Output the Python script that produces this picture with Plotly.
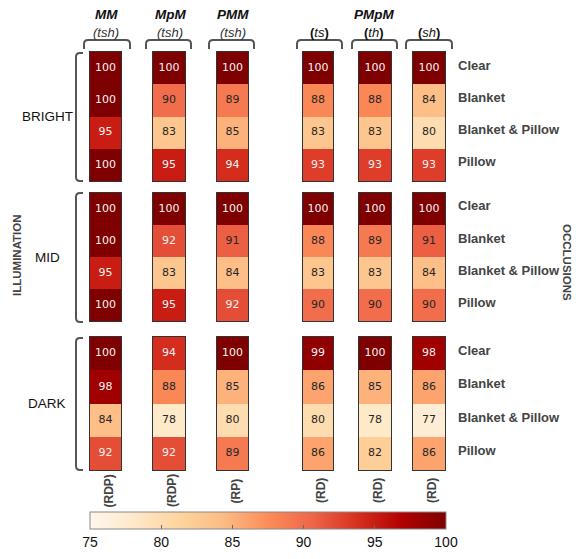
import plotly.graph_objects as go

W, H = 584, 559          # browser window
OX, OY = 8, 8            # default page body margin
FW, FH = W - 2 * OX, H - 2 * OY

# ---------------- data ----------------
methods = ["MM", "MpM", "PMM", "PMpM_ts", "PMpM_th", "PMpM_sh"]
illuminations = ["BRIGHT", "MID", "DARK"]
occlusions = ["Clear", "Blanket", "Blanket & Pillow", "Pillow"]
bottom_labels = ["(RDP)", "(RDP)", "(RP)", "(RD)", "(RD)", "(RD)"]

bright = {
    "MM": [100, 100, 95, 100],
    "MpM": [100, 90, 83, 95],
    "PMM": [100, 89, 85, 94],
    "PMpM_ts": [100, 88, 83, 93],
    "PMpM_th": [100, 88, 83, 93],
    "PMpM_sh": [100, 84, 80, 93],
}
mid = {
    "MM": [100, 100, 95, 100],
    "MpM": [100, 92, 83, 95],
    "PMM": [100, 91, 84, 92],
    "PMpM_ts": [100, 88, 83, 90],
    "PMpM_th": [100, 89, 83, 90],
    "PMpM_sh": [100, 91, 84, 90],
}
dark = {
    "MM": [100, 98, 84, 92],
    "MpM": [94, 88, 78, 92],
    "PMM": [100, 85, 80, 89],
    "PMpM_ts": [99, 86, 80, 86],
    "PMpM_th": [100, 85, 78, 82],
    "PMpM_sh": [98, 86, 77, 86],
}
blocks = [bright, mid, dark]
cbar_ticks = [75, 80, 85, 90, 95, 100]

# ---------------- layout geometry (window pixels) ----------------
col_px = [(90, 121), (153, 185), (217, 248), (303, 333), (359, 391), (413, 445)]
row_px = [(52, 181), (193, 321), (337, 470)]


def fx(x):
    return (x - OX) / FW


def fy(y):
    return 1 - (y - OY) / FH


fig = go.Figure()
layout_axes = {}
k = 0
for bi, block in enumerate(blocks):
    for ci, m in enumerate(methods):
        k += 1
        vals = block[m]
        xa = "x" if k == 1 else f"x{k}"
        ya = "y" if k == 1 else f"y{k}"
        fig.add_trace(go.Heatmap(
            z=[[v] for v in vals], x=[0], y=list(range(len(vals))),
            coloraxis="coloraxis", xaxis=xa, yaxis=ya, hoverinfo="skip",
        ))
        fig.add_trace(go.Scatter(
            x=[0] * len(vals), y=list(range(len(vals))), mode="text",
            text=[str(v) for v in vals],
            textfont=dict(family="DejaVu Sans", size=11,
                          color=["#f2f2f2" if v >= 92 else "#262626" for v in vals]),
            xaxis=xa, yaxis=ya, hoverinfo="skip", showlegend=False,
        ))
        x0, x1 = col_px[ci]
        y0, y1 = row_px[bi]
        kx = "xaxis" if k == 1 else f"xaxis{k}"
        ky = "yaxis" if k == 1 else f"yaxis{k}"
        layout_axes[kx] = dict(domain=[fx(x0), fx(x1)], range=[-0.5, 0.5],
                               showticklabels=False, ticks="", showgrid=False,
                               zeroline=False, showline=True, mirror=True,
                               linecolor="#333", linewidth=1,
                               anchor=ya, fixedrange=True)
        layout_axes[ky] = dict(domain=[fy(y1), fy(y0)], range=[3.5, -0.5],
                               showticklabels=False, ticks="", showgrid=False,
                               zeroline=False, showline=True, mirror=True,
                               linecolor="#333", linewidth=1,
                               anchor=xa, fixedrange=True)

fig.update_layout(**layout_axes)

# ---------------- colour axis ----------------
fig.update_layout(coloraxis=dict(
    colorscale="OrRd", cmin=75, cmax=100,
    colorbar=dict(
        orientation="h", x=fx((90 + 446) / 2), xanchor="center",
        y=fy(512), yanchor="top", len=356 / FW, lenmode="fraction",
        thickness=17, thicknessmode="pixels",
        outlinecolor="#888", outlinewidth=1,
        tickvals=cbar_ticks, ticks="inside", ticklen=4, tickcolor="#666",
        tickfont=dict(family="Liberation Sans", size=14, color="#111"),
        xpad=0, ypad=0,
    ),
))

# ---------------- brackets ----------------
shapes = []
line = dict(color="#555", width=2)
r = 4
bracket_top = [(84, 130), (146, 191), (209, 254), (297, 342), (352, 397), (406, 452)]
for (a, b) in bracket_top:
    yt, yb = 40, 49
    p = (f"M {fx(a)},{fy(yb)} L {fx(a)},{fy(yt + r)} Q {fx(a)},{fy(yt)} {fx(a + r)},{fy(yt)} "
         f"L {fx(b - r)},{fy(yt)} Q {fx(b)},{fy(yt)} {fx(b)},{fy(yt + r)} L {fx(b)},{fy(yb)}")
    shapes.append(dict(type="path", path=p, xref="paper", yref="paper", line=line))
bracket_left = [(53, 181), (193, 322), (338, 470)]
for (a, b) in bracket_left:
    xl, xr = 76, 83
    p = (f"M {fx(xr)},{fy(a)} L {fx(xl + r)},{fy(a)} Q {fx(xl)},{fy(a)} {fx(xl)},{fy(a + r)} "
         f"L {fx(xl)},{fy(b - r)} Q {fx(xl)},{fy(b)} {fx(xl + r)},{fy(b)} L {fx(xr)},{fy(b)}")
    shapes.append(dict(type="path", path=p, xref="paper", yref="paper", line=line))
fig.update_layout(shapes=shapes)

# ---------------- annotations ----------------
ann = []
font = "Liberation Sans"


def add(text, x, y, size=13, color="#222", angle=0, xanchor="center", bold=False):
    if bold:
        text = f"<b>{text}</b>"
    ann.append(dict(text=text, x=fx(x), y=fy(y), xref="paper", yref="paper",
                    showarrow=False, textangle=angle, xanchor=xanchor, yanchor="middle",
                    font=dict(family=font, size=size, color=color)))


# headers
add("<b><i>MM</i></b>", 106, 15, size=13.5, color="#111")
add("<i>(tsh)</i>", 106, 32, size=13, color="#333")
add("<b><i>MpM</i></b>", 170, 15, size=13.5, color="#111")
add("<i>(tsh)</i>", 170, 32, size=13, color="#333")
add("<b><i>PMM</i></b>", 233, 15, size=13.5, color="#111")
add("<i>(tsh)</i>", 233, 32, size=13, color="#333")
add("<b><i>PMpM</i></b>", 374, 15, size=13.5, color="#111")
add("<b>(</b><i>ts</i><b>)</b>", 319, 32, size=13, color="#111")
add("<b>(</b><i>th</i><b>)</b>", 374, 32, size=13, color="#111")
add("<b>(</b><i>sh</i><b>)</b>", 429, 32, size=13, color="#111")

# illumination labels
for bi, name in enumerate(illuminations):
    y0, y1 = row_px[bi]
    add(name, 47, (y0 + y1) / 2, size=13.5, color="#111")
add("ILLUMINATION", 17, 255, size=11.5, color="#444", angle=-90, bold=True)

# occlusion labels
for bi in range(3):
    y0, y1 = row_px[bi]
    h = (y1 - y0) / 4
    for ri, name in enumerate(occlusions):
        add(name, 456, y0 + h * (ri + 0.5) - 3, size=13, color="#444",
            xanchor="left", bold=True)
add("OCCLUSIONS", 567, 262, size=11.5, color="#444", angle=90, bold=True)

# bottom labels
for ci, lab in enumerate(bottom_labels):
    x0, x1 = col_px[ci]
    add(lab, (x0 + x1) / 2 + 3, 491, size=12, color="#444", angle=-90, bold=True)

fig.update_layout(annotations=ann)

fig.update_layout(
    width=FW, height=FH, margin=dict(l=0, r=0, t=0, b=0, autoexpand=False),
    paper_bgcolor="white", plot_bgcolor="white", showlegend=False,
)

fig.write_html("out.html")
